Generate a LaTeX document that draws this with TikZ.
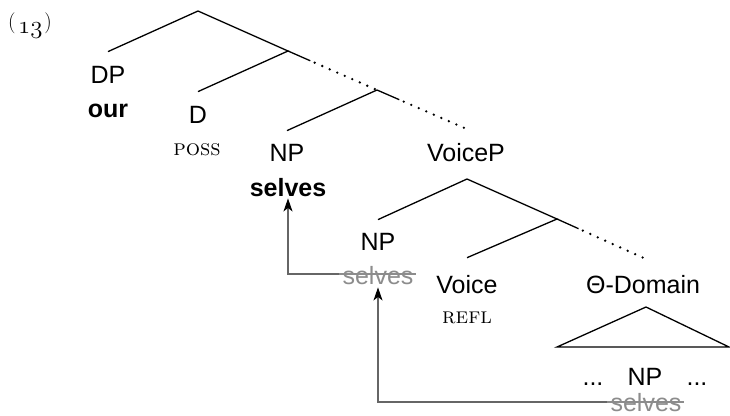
\documentclass[tikz,border=0pt]{standalone}
\usepackage{fontspec}
\newfontfamily\labsans{Liberation Sans}
\usetikzlibrary{arrows.meta,calc}
\newcommand\exparen[1]{\raisebox{4.5pt}{\fontsize{21}{25}\selectfont #1}}
\begin{document}
\begin{tikzpicture}[x=1pt,y=-1pt,
 lab/.style={font=\labsans\fontsize{25}{30}\selectfont, inner sep=0pt, anchor=base},
 blab/.style={lab, font=\labsans\bfseries\fontsize{25}{30}\selectfont},
 glab/.style={lab, text=black!45},
 smc/.style={font=\fontsize{22.5}{27}\selectfont\scshape, inner sep=0pt, anchor=base},
 br/.style={line width=1.3pt},
 dotl/.style={line width=2.6pt, line cap=round, dash pattern=on 0pt off 8.2pt},
 mv/.style={draw=black!60, line width=1.1pt, -{Stealth[length=13pt,width=9pt,inset=3.5pt,black]}},
 strike/.style={draw=black!45, line width=1.3pt}]
\useasboundingbox (0,0) rectangle (730,415);
\node[inner sep=0pt, anchor=base west] (ex) at (8,33) {\exparen{(}\kern2.5pt{\fontsize{29}{32}\usefont{OML}{lmm}{m}{it}13}\kern2pt\exparen{)}};
% nodes
\coordinate (root) at (198,11);
\coordinate (n1) at (288,51);
\coordinate (n2) at (377,90);
\coordinate (vp) at (467,179);
\coordinate (n3) at (557,219);
\node[lab] (dp) at (108,83) {DP};
\node[blab] (our) at (108,117) {our};
\node[lab] (d) at (198,123) {D};
\node[smc] (poss) at (197,155) {poss};
\node[lab] (np1) at (287,161) {NP};
\node[blab] (s1) at (288,196) {selves};
\node[lab] (voicep) at (466,161) {VoiceP};
\node[lab] (np2) at (378,250) {NP};
\node[glab] (s2) at (378,284) {selves};
\node[lab] (voice) at (467,293) {Voice};
\node[smc] (refl) at (467,323) {refl};
\node[lab] (theta) at (643,293) {Θ-Domain};
\node[lab] (dots1) at (593,385) {...};
\node[lab] (np3) at (645,385) {NP};
\node[lab] (dots2) at (697,385) {...};
\node[glab] (s3) at (646,411) {selves};
\coordinate (tapex) at (646,307);
\coordinate (tl) at (557,347);
\coordinate (tr) at (729,347);
% tree
\draw[br] ([yshift=14pt]dp.north) -- (root) -- (n1) -- ([yshift=14pt]d.north);
\draw[br] (n1) -- ($(n1)!0.25!(n2)$);
\draw[dotl] ($(n1)!0.3!(n2)$) -- (n2);
\draw[br] ([yshift=13pt]np1.north) -- (n2) -- ($(n2)!0.25!([yshift=14pt]voicep.north)$);
\draw[dotl] ($(n2)!0.3!([yshift=14pt]voicep.north)$) -- ([yshift=14pt]voicep.north);
\draw[br] ([yshift=13pt]np2.north) -- (vp) -- (n3) -- ([yshift=17pt]voice.north);
\draw[br] (n3) -- ($(n3)!0.25!([yshift=17pt]theta.north)$);
\draw[dotl] ($(n3)!0.3!([yshift=17pt]theta.north)$) -- ([yshift=17pt]theta.north);
\draw[br] (tapex) -- (tl) -- (tr) -- cycle;
% strikes
\draw[strike] ([xshift=-3pt,yshift=10pt]s2.base west) -- ([xshift=2pt,yshift=10pt]s2.base east);
\draw[strike] ([xshift=-3pt,yshift=9pt]s3.base west) -- ([xshift=2pt,yshift=9pt]s3.base east);
% movement arrows
\draw[mv] ([xshift=-3pt,yshift=10pt]s2.base west) -| ([yshift=-2pt]s1.south);
\draw[mv] ([xshift=-3pt,yshift=9pt]s3.base west) -| ([yshift=-3pt]s2.south);
\end{tikzpicture}
\end{document}
